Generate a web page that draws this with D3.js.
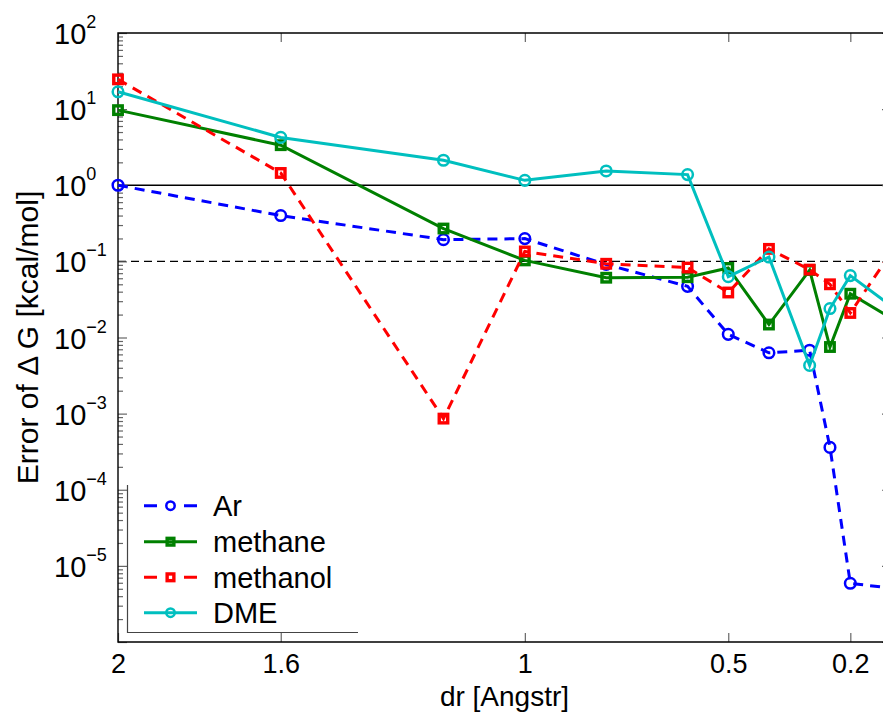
<!DOCTYPE html>
<html>
<head>
<meta charset="utf-8">
<script src="https://cdn.jsdelivr.net/npm/d3@7"></script>
<style>
  html, body { margin: 0; padding: 0; background: #fff; }
  svg { display: block; font-family: "Liberation Sans", Arial, Helvetica, sans-serif; }
</style>
</head>
<body>
<svg id="chart" width="883" height="712"></svg>
<script>
// Grid spacing dr (Angstrom) and the error of the free energy (kcal/mol)
const dr = [2, 1.6, 1.2, 1.0, 0.8, 0.6, 0.5, 0.4, 0.3, 0.25, 0.2, 0.1];
const errAr       = [1.0, 0.40, 0.193, 0.199, 0.091, 0.047, 0.011, 0.0063, 0.0068, 3.6e-4, 5.9e-6, 5.1e-6];
const errMethane  = [9.7, 3.36, 0.27, 0.103, 0.061, 0.062, 0.082, 0.0148, 0.077, 0.0075, 0.0376, 0.018];
const errMethanol = [24.6, 1.45, 8.6e-4, 0.135, 0.093, 0.083, 0.039, 0.146, 0.078, 0.050, 0.021, 0.13];
const errDME      = [16.9, 4.25, 2.13, 1.16, 1.54, 1.38, 0.063, 0.114, 0.0043, 0.024, 0.065, 0.026];

const seriesNames = ["Ar", "methane", "methanol", "DME"];
const xTickValues = [2, 1.6, 1, 0.5, 0.2];
const xTickLabels = ["2", "1.6", "1", "0.5", "0.2"];
const yExponents = [-6, -5, -4, -3, -2, -1, 0, 1, 2];
const yLabeled = [-5, -4, -3, -2, -1, 0, 1, 2];
const refSolid = 1;    // 1 kcal/mol
const refDashed = 0.1; // 0.1 kcal/mol

const series = [
  { name: seriesNames[0], values: errAr,       color: "#0000ff", dash: "10,7", marker: "circle" },
  { name: seriesNames[1], values: errMethane,  color: "#008000", dash: null,   marker: "square" },
  { name: seriesNames[2], values: errMethanol, color: "#ff0000", dash: "10,7", marker: "square" },
  { name: seriesNames[3], values: errDME,      color: "#00bfbf", dash: null,   marker: "circle" }
];

const svg = d3.select("#chart");
const plotL = 118, plotR = 891, plotT = 33, plotB = 642;

const x = d3.scaleLinear().domain([2, 0.1]).range([plotL, plotR]);
const y = d3.scaleLog().domain([1e-6, 1e2]).range([plotB, plotT]);

const majors = yExponents.map(e => Math.pow(10, e));
const minors = [];
yExponents.slice(0, -1).forEach(e => {
  for (let k = 2; k <= 9; k++) minors.push(k * Math.pow(10, e));
});

const tickColor = "#666";

// Reference levels
svg.append("line")
  .attr("x1", x(2)).attr("x2", x(0.1))
  .attr("y1", y(refSolid)).attr("y2", y(refSolid))
  .attr("stroke", "#000").attr("stroke-width", 1.4);
svg.append("line")
  .attr("x1", x(2)).attr("x2", x(0.1))
  .attr("y1", y(refDashed)).attr("y2", y(refDashed))
  .attr("stroke", "#000").attr("stroke-width", 1.2)
  .attr("stroke-dasharray", "8,5");

// Axes with inward ticks
function styleAxis(g) {
  g.select(".domain").remove();
  g.selectAll(".tick line").attr("stroke", tickColor).attr("stroke-width", 1.2);
}

const xBottom = svg.append("g").attr("transform", `translate(0,${plotB})`)
  .call(d3.axisBottom(x).tickValues(xTickValues)
    .tickFormat((d, i) => xTickLabels[i]).tickSize(-9).tickPadding(12))
  .call(styleAxis);
xBottom.selectAll(".tick text")
  .attr("font-size", 27).attr("fill", "#000")
  .attr("font-family", "Liberation Sans, Arial, sans-serif");

svg.append("g").attr("transform", `translate(0,${plotT})`)
  .call(d3.axisTop(x).tickValues(xTickValues).tickFormat("").tickSize(-9))
  .call(styleAxis);

const yLeft = svg.append("g").attr("transform", `translate(${plotL},0)`)
  .call(d3.axisLeft(y).tickValues(majors).tickFormat("").tickSize(-9))
  .call(styleAxis);
svg.append("g").attr("transform", `translate(${plotL},0)`)
  .call(d3.axisLeft(y).tickValues(minors).tickFormat("").tickSize(-5))
  .call(styleAxis);
svg.append("g").attr("transform", `translate(${plotR},0)`)
  .call(d3.axisRight(y).tickValues(majors).tickFormat("").tickSize(-9))
  .call(styleAxis);
svg.append("g").attr("transform", `translate(${plotR},0)`)
  .call(d3.axisRight(y).tickValues(minors).tickFormat("").tickSize(-5))
  .call(styleAxis);

// Power-of-ten labels on the left
yLeft.selectAll(".tick").each(function (d) {
  const e = Math.round(Math.log10(d));
  const t = d3.select(this).select("text");
  if (!yLabeled.includes(e)) { t.remove(); return; }
  t.attr("x", 54 - plotL).attr("dy", null).attr("y", 10.5)
    .attr("text-anchor", "start").attr("fill", "#000")
    .attr("font-size", 29).text(null);
  t.append("tspan").text("10");
  t.append("tspan").attr("font-size", 18).attr("dy", -16)
    .text(e < 0 ? "\u2212" + Math.abs(e) : String(e));
});

// Frame
svg.append("path")
  .attr("d", `M${plotR},${plotT}H${plotL}V${plotB}H${plotR}`)
  .attr("fill", "none").attr("stroke", "#000").attr("stroke-width", 1.4);

// Series
const line = d3.line().x((d, i) => x(dr[i])).y(d => y(d));

function drawMarker(g, kind, color, cx, cy, size) {
  if (kind === "circle") {
    g.append("circle").attr("cx", cx).attr("cy", cy).attr("r", size)
      .attr("fill", "none").attr("stroke", color).attr("stroke-width", 2.5);
  } else {
    g.append("rect").attr("x", cx - size * 0.8).attr("y", cy - size * 0.8)
      .attr("width", size * 1.6).attr("height", size * 1.6)
      .attr("fill", "none").attr("stroke", color).attr("stroke-width", 3.4);
  }
}

series.forEach(s => {
  const g = svg.append("g");
  g.append("path").datum(s.values)
    .attr("d", line)
    .attr("fill", "none").attr("stroke", s.color).attr("stroke-width", 3)
    .attr("stroke-dasharray", s.dash);
  s.values.forEach((v, i) => drawMarker(g, s.marker, s.color, x(dr[i]), y(v), 5.3));
});

// Axis titles
svg.append("text")
  .attr("x", (plotL + plotR) / 2).attr("y", 705.5)
  .attr("text-anchor", "middle").attr("font-size", 28)
  .text("dr [Angstr]");
svg.append("text")
  .attr("transform", `translate(38,${(plotT + plotB) / 2}) rotate(-90)`)
  .attr("text-anchor", "middle").attr("font-size", 30)
  .text("Error of \u0394 G [kcal/mol]");

// Legend
const legend = svg.append("g");
legend.append("rect").attr("x", 127.5).attr("y", 485).attr("width", 231).attr("height", 148)
  .attr("fill", "#fff");
legend.append("path").attr("d", "M127.5,485V632.5H358")
  .attr("fill", "none").attr("stroke", "#444").attr("stroke-width", 1.2);
const rowY = [505.7, 541.7, 577.3, 612.7];
series.forEach((s, i) => {
  const ly = rowY[i];
  legend.append("line").attr("x1", 144).attr("x2", 197).attr("y1", ly).attr("y2", ly)
    .attr("stroke", s.color).attr("stroke-width", 3)
    .attr("stroke-dasharray", s.dash ? "13,27" : null);
  drawMarker(legend, s.marker, s.color, 170.5, ly, 4.2);
  legend.append("text").attr("x", 213).attr("y", ly + 10.5)
    .attr("font-size", 29).text(s.name);
});
</script>
</body>
</html>
